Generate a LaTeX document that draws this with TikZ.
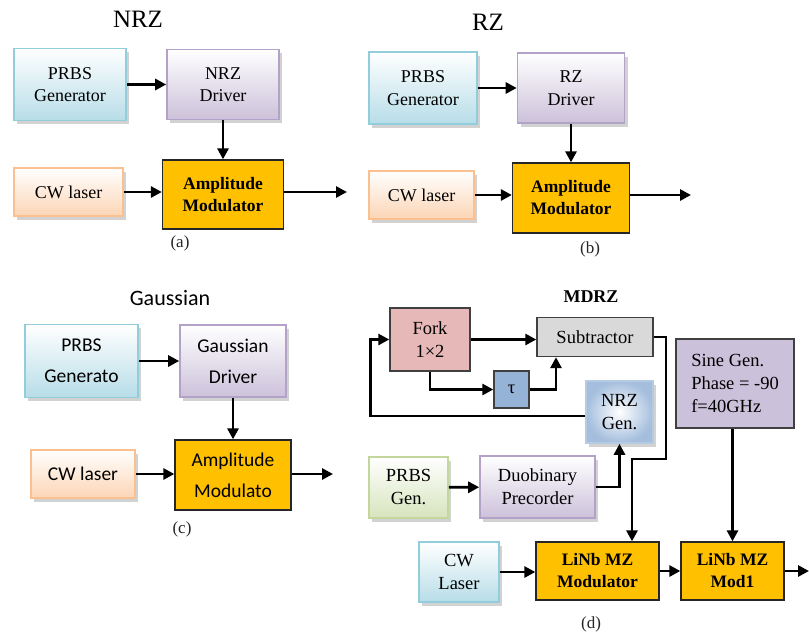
\documentclass[tikz,border=0pt]{standalone}
\usepackage{fontspec}
\setmainfont{Liberation Serif}
\newfontfamily\calibri{Carlito}
\usetikzlibrary{arrows.meta}
\usetikzlibrary{calc}
\usetikzlibrary{positioning}
\usetikzlibrary{shadows}

\definecolor{cyanfill}{HTML}{B7DDE8}
\definecolor{cyanline}{HTML}{92CDDC}
\definecolor{lilacfill}{HTML}{CCC1DA}
\definecolor{lilacline}{HTML}{B3A2C7}
\definecolor{peachfill}{HTML}{FCD5B5}
\definecolor{peachline}{HTML}{FAC090}
\definecolor{greenfill}{HTML}{D7E4BD}
\definecolor{greenline}{HTML}{C3D69B}
\definecolor{modfill}{HTML}{FFC000}
\definecolor{forkfill}{HTML}{E6B9B8}
\definecolor{subfill}{HTML}{D9D9D9}
\definecolor{taufill}{HTML}{95B3D7}

\begin{document}
\begin{tikzpicture}[x=1pt,y=-1pt,
    box/.style={rectangle,inner sep=0pt,align=center,text=black,
      font=\fontsize{18}{22.5}\selectfont},
    wh/.style 2 args={minimum width=#1pt,minimum height=#2pt},
    soft/.style={box,line width=1.6pt,
      drop shadow={shadow xshift=3pt,shadow yshift=-3.5pt,fill=black!35}},
    cyanbox/.style={soft,draw=cyanline,top color=white,bottom color=cyanfill},
    lilacbox/.style={soft,draw=lilacline,top color=white,bottom color=lilacfill},
    peachbox/.style={soft,draw=peachline,top color=white,bottom color=peachfill},
    greenbox/.style={soft,draw=greenline,top color=white,bottom color=greenfill},
    modbox/.style={box,draw=black!85,line width=1.3pt,fill=modfill,
      font=\bfseries\fontsize{17.5}{22}\selectfont},
    flatbox/.style={box,draw=black!75,line width=1.4pt,fill=#1},
    dfont/.style={font=\fontsize{18.5}{23}\selectfont},
    cfont/.style={font=\calibri\fontsize{19.5}{31}\selectfont},
    link/.style={line width=2.8pt,-{Triangle[length=11pt,width=11pt]}},
    every edge/.style={draw,link},
    caption/.style={font=\fontsize{17}{20}\selectfont,text=black!85},
    heading/.style={font=\fontsize{25}{30}\selectfont,text=black}]

  \path [fill=white,use as bounding box] (0,0) rectangle (809,637);

  \node [heading] (Ahead) at (138,19) {NRZ};
  \node [cyanbox,wh={112}{72}] (Aprbs) at (70,84.5) {PRBS\\Generator};
  \node [lilacbox,wh={112}{70}] (Adrv) at (223,84.5) {NRZ\\Driver};
  \node [peachbox,wh={109}{48}] (Alaser) at (68.5,192) {CW laser};
  \node [modbox,wh={121}{69}] (Amod) at (223,194.5) {Amplitude\\Modulator};
  \node [caption] (Acap) at (180,243) {(a)};
  \coordinate (Aout) at (347,192);

  \path
    (Aprbs) edge (Adrv)
    (Adrv)  edge (Amod)
    (Alaser.east) edge (Alaser.east -| Amod.west)
    (Amod.east |- Alaser.east) edge (Aout);

  \node [heading] (Bhead) at (488,22) {RZ};
  \node [cyanbox,wh={108}{72}] (Bprbs) at (423,88) {PRBS\\Generator};
  \node [lilacbox,wh={107}{70}] (Bdrv) at (571,88) {RZ\\Driver};
  \node [peachbox,wh={105}{48}] (Blaser) at (421.5,195) {CW laser};
  \node [modbox,wh={117}{70}] (Bmod) at (571,198) {Amplitude\\Modulator};
  \node [caption] (Bcap) at (590,249) {(b)};
  \coordinate (Bout) at (691,195);

  \path
    (Bprbs) edge (Bdrv)
    (Bdrv)  edge (Bmod)
    (Blaser.east) edge (Blaser.east -| Bmod.west)
    (Bmod.east |- Blaser.east) edge (Bout);

  \node [heading,font=\calibri\fontsize{22}{26}\selectfont] (Chead) at (170,298) {Gaussian};
  \node [cyanbox,cfont,wh={113}{73}] (Cprbs) at (81.5,361) {PRBS\\Generato};
  \node [lilacbox,cfont,wh={106}{72}] (Cdrv) at (233,361) {Gaussian\\Driver};
  \node [peachbox,cfont,wh={104}{48}] (Claser) at (83,474) {CW laser};
  \node [modbox,cfont,wh={116}{70}] (Cmod) at (233,475) {Amplitude\\Modulato};
  \node [caption] (Ccap) at (182,529) {(c)};
  \coordinate (Cout) at (333,474);

  \path
    (Cprbs) edge (Cdrv)
    (Cdrv)  edge (Cmod)
    (Claser.east) edge (Claser.east -| Cmod.west)
    (Cmod.east |- Claser.east) edge (Cout);

  \node [font=\bfseries\fontsize{18}{22}\selectfont] (Dhead) at (591,297) {MDRZ};
  \node [flatbox=forkfill,dfont,wh={80}{63}] (Dfork) at (430,339.5) {Fork\\1×2};
  \node [flatbox=subfill,dfont,wh={116}{39}] (Dsub) at (595,337) {Subtractor};
  \node [flatbox=taufill,dfont,wh={35}{37}] (Dtau) at (511.5,389.5) {τ};
  \node [soft,dfont,draw=taufill!70,inner color=white,outer color=taufill!85,wh={67}{62}] (Dnrz) at (619.5,412) {NRZ\\Gen.};
  \node [flatbox=lilacfill,dfont,align=left,wh={118}{89}] (Dsine) at (735,383.5) {Sine Gen.\\Phase = -90\\f=40GHz};
  \node [greenbox,dfont,wh={79}{61}] (Dprbs) at (408.5,487.5) {PRBS\\Gen.};
  \node [lilacbox,dfont,wh={115}{62}] (Dduo) at (537.5,487) {Duobinary\\Precorder};
  \node [cyanbox,dfont,wh={80}{60}] (Dlaser) at (459,572) {CW\\Laser};
  \node [modbox,wh={123}{58}] (Dlinb) at (597.5,571) {LiNb MZ\\Modulator};
  \node [modbox,wh={103}{58}] (Dmod1) at (732.5,571) {LiNb MZ\\Mod1};
  \node [caption] (Dcap) at (591,624) {(d)};
  \coordinate (Dbend) at (666,459);
  \coordinate (Dout) at (809,571);

  \path
    (Dfork.east) edge (Dfork.east -| Dsub.west)
    (Dprbs) edge (Dduo)
    (Dlaser.east) edge (Dlaser.east -| Dlinb.west)
    (Dlinb) edge (Dmod1)
    (Dmod1.north |- Dsine.south) edge (Dmod1.north)
    (Dmod1.east) edge (Dout);

  \draw [link] (Dfork.south) |- (Dtau.west);
  \draw [link] (Dtau.east) -| ([xshift=-39pt]Dsub.south);
  \draw [link] ([yshift=-4pt]Dnrz.west) -| ([xshift=-19pt]Dfork.west) -- (Dfork.west);
  \draw [link] (Dduo.east) -| (Dnrz.south);
  \draw [link] (Dsub.east) -| (Dbend) -| ([xshift=34.5pt]Dlinb.north);

\end{tikzpicture}
\end{document}
